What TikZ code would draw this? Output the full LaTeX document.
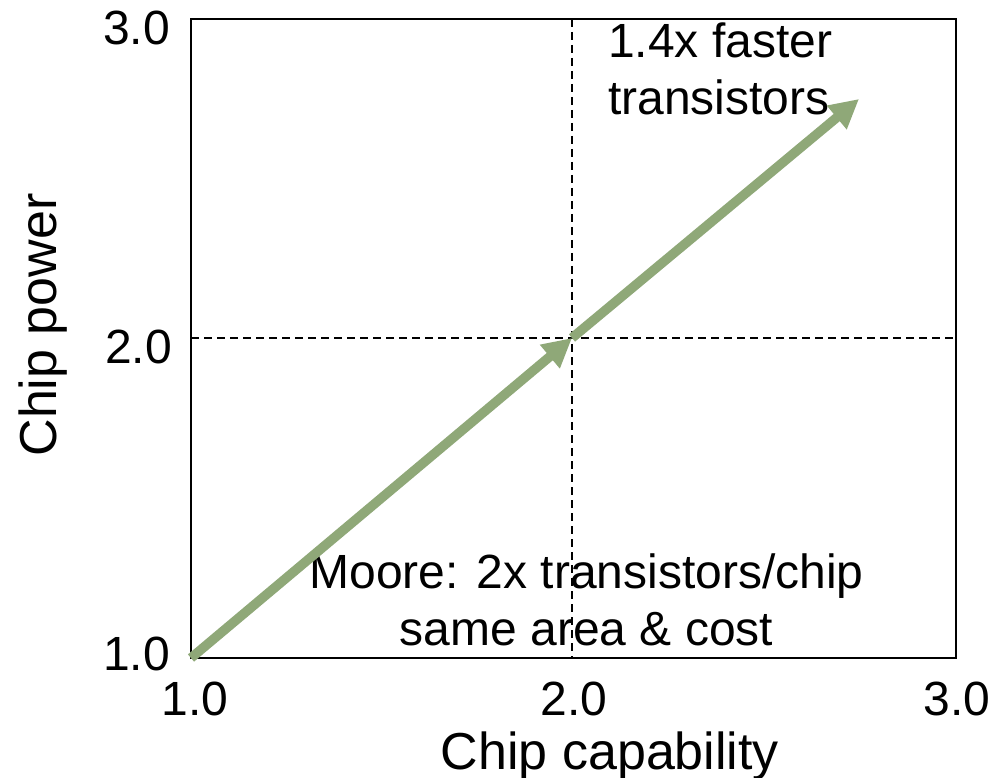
\documentclass[tikz,border=0pt]{standalone}
\usepackage{fontspec}
\setmainfont{Liberation Sans}
\usetikzlibrary{arrows.meta}
\definecolor{sage}{RGB}{143,168,120}
\begin{document}
\begin{tikzpicture}[x=1pt,y=-1pt,
  tick/.style={font=\fontsize{48}{57}\selectfont, inner sep=0pt},
  axlab/.style={font=\fontsize{52}{62}\selectfont, inner sep=0pt},
  note/.style={font=\fontsize{48}{57}\selectfont, inner sep=0pt},
  guide/.style={line width=2.2pt, dash pattern=on 8pt off 5pt},
  frame/.style={line width=2.6pt},
  trend/.style={draw=sage, line width=9.5pt, -{Triangle[length=29pt,width=29pt]}}]
\useasboundingbox (0,0) rectangle (994,778);
% frame corners
\coordinate (ll) at (191,658);
\coordinate (ur) at (956,19);
% guide end points
\coordinate (vtop) at (572,19);
\coordinate (vbot) at (572,658);
\coordinate (hl) at (191,338);
\coordinate (hr) at (956,338);
% data points
\coordinate (p1) at (191,658);
\coordinate (p2) at (572,338);
\coordinate (p3) at (859,99);
% annotations
\node[note, anchor=north west, align=left] (fast) at (608,23) {1.4x faster\\transistors};
\node[note, anchor=north, align=center] (moore) at (586.5,554) {Moore: 2x transistors/chip\\same area \& cost};
% tick labels
\node[tick, anchor=base] (x1) at (195,715) {1.0};
\node[tick, anchor=base] (x2) at (574,715) {2.0};
\node[tick, anchor=base] (x3) at (957,715) {3.0};
\node[tick, anchor=base east] (y1) at (170,670) {1.0};
\node[tick, anchor=base east] (y2) at (172,363) {2.0};
\node[tick, anchor=base east] (y3) at (170,45) {3.0};
% axis labels
\node[axlab, anchor=base] (xlab) at (610,769) {Chip capability};
\node[axlab, anchor=base, rotate=90] (ylab) at (56,325) {Chip power};
% guides
\draw[guide] (vtop) -- (vbot);
\draw[guide] (hl) -- (hr);
% frame
\draw[frame] (ll) rectangle (ur);
% arrows
\draw[trend] (p1) -- (p2);
\draw[trend] (p2) -- (p3);
\end{tikzpicture}
\end{document}
